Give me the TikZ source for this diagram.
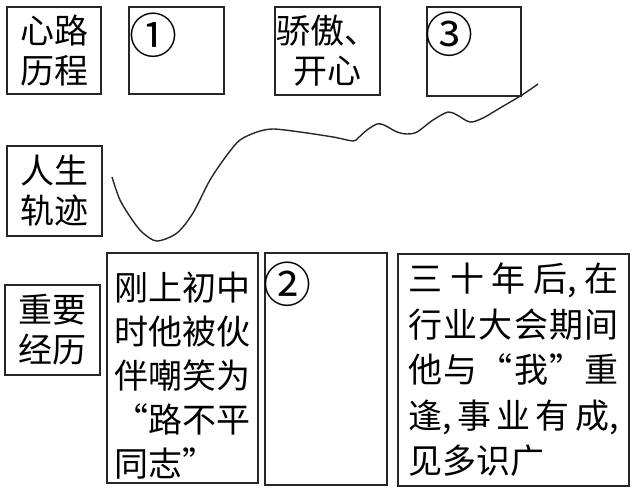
\documentclass[tikz,border=0pt]{standalone}
\usepackage{fontspec}
\setmainfont{Noto Sans CJK SC}

\begin{document}
\begin{tikzpicture}[x=1pt,y=-1pt,
  box/.style={draw=black!85,line width=1.1pt,inner sep=0pt,align=center,
    font=\fontsize{34}{40}\selectfont},
  para/.style={box,align=left,font=\fontsize{34}{44}\selectfont},
  num/.style={inner sep=0pt,font=\fontsize{48}{50}\selectfont}]
  \useasboundingbox (0,0) rectangle (637,489);
  % top row
  \node[box,minimum width=94pt,minimum height=87pt] (xinlu) at (54,50.5) {心路\\历程};
  \node[box,minimum width=95pt,minimum height=87pt] (q1) at (176.5,50.5) {};
  \node[box,minimum width=105pt,minimum height=88pt] (jiaoao) at (327.5,51) {骄傲、\\开心};
  \node[box,minimum width=94pt,minimum height=89pt] (q3) at (474,51.5) {};
  \node[num] (n1) at (153,35) {①};
  \node[num] (n3) at (449,34) {③};
  % middle row
  \node[box,minimum width=95pt,minimum height=90pt] (guiji) at (54.5,191) {人生\\轨迹};
  \draw[line width=1.4pt,black!85] plot[smooth] coordinates {(112,177) (120,200) (133,221)
    (143,233) (157,241) (177,233) (193,213) (210,180) (227,155) (240,140) (257,132)
    (273,129) (300,132) (333,137) (353,141) (358,138) (367,130) (377,124) (384,125)
    (397,132) (407,134) (417,132) (433,120) (448,112) (457,115) (470,122) (483,118)
    (500,108) (522,95) (538,84)};
  % bottom row
  \node[box,minimum width=95pt,minimum height=90pt] (jingli) at (52.5,330) {重要\\经历};
  \node[para,text width=136pt,minimum width=151pt,minimum height=230pt] (e1) at (182.5,368)
    {\rule{0pt}{44pt}刚上初中\\时他被伙\\伴嘲笑为\\\makebox[136pt][s]{“\hfill 路\hfill 不\hfill 平}\\同志”};
  \node[box,minimum width=122pt,minimum height=232pt] (q2) at (326,369) {};
  \node[num] (n2) at (287,284) {②};
  \node[para,text width=210pt,minimum width=231pt,minimum height=232pt,
    font=\fontsize{34}{45.5}\selectfont] (e3) at (513.5,370)
    {\makebox[210pt][s]{三\hfill 十\hfill 年\hfill 后,\hfill 在}\\
     \makebox[210pt][s]{行\hfill 业\hfill 大\hfill 会\hfill 期\hfill 间}\\
     \makebox[210pt][s]{他\hfill 与\hfill “\hfill 我\hfill ”\hfill 重}\\
     \makebox[210pt][s]{逢,\hfill 事\hfill 业\hfill 有\hfill 成,}\\见多识广};
\end{tikzpicture}
\end{document}
